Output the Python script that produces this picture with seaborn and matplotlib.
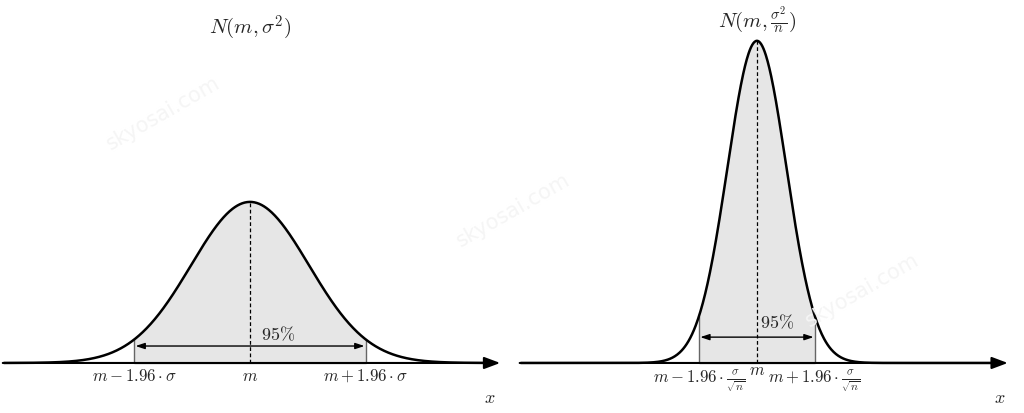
import numpy as np
import matplotlib
matplotlib.use("Agg")
import matplotlib.pyplot as plt
import seaborn as sns

# parameters of the two distributions
m = 0.0
sigma = 1.0
n = 4
z = 1.96
coverage_label = r"$95\%$"
titles = [r"$N(m,\sigma^2)$", r"$N(m,\frac{\sigma^2}{n})$"]
lower_labels = [r"$m-1.96\cdot\sigma$", r"$m-1.96\cdot\frac{\sigma}{\sqrt{n}}$"]
upper_labels = [r"$m+1.96\cdot\sigma$", r"$m+1.96\cdot\frac{\sigma}{\sqrt{n}}$"]
scales = [sigma, sigma / np.sqrt(n)]

sns.set_theme(style="white")
plt.rcParams["mathtext.fontset"] = "cm"
plt.rcParams["font.family"] = ["DejaVu Sans"]

fig = plt.figure(figsize=(10.24, 4.13), dpi=100)

# layout (per panel) in data units
panel_rects = [[0.0, 0.0, 0.5, 1.0], [0.5, 0.0, 0.5, 1.0]]
xlims = [(-4.237, 4.44), (-4.15, 4.525)]
ylim = (-0.1239, 0.899)
axis_start = [-4.19, -4.02]
axis_end = [4.24, 4.25]
title_y = [0.83, 0.85]
pct_pos = [(0.47, 0.069), (0.34, 0.10)]
arrow_y = [0.042, 0.064]
lab_y = [-0.032, -0.047]
m_lab_y = [-0.032, -0.017]
xlab_pos = [(4.07, -0.087), (4.12, -0.087)]


def pdf(x, s):
    return np.exp(-0.5 * ((x - m) / s) ** 2) / (s * np.sqrt(2 * np.pi))


for i in range(2):
    ax = fig.add_axes(panel_rects[i])
    s = scales[i]
    ax.set_xlim(*xlims[i])
    ax.set_ylim(*ylim)
    ax.axis("off")

    lo, hi = m - z * s, m + z * s
    xs = np.linspace(axis_start[i] + 0.02, axis_end[i] - 0.2, 800)
    ys = pdf(xs, s)

    # x axis with arrow
    ax.annotate("", xy=(axis_end[i], 0), xytext=(axis_start[i], 0),
                arrowprops=dict(arrowstyle="-|>,head_length=0.8,head_width=0.3",
                                color="black", lw=1.5, shrinkA=0, shrinkB=0))

    # shaded central region
    xin = np.linspace(lo, hi, 400)
    ax.fill_between(xin, pdf(xin, s), 0, color="#e6e6e6", lw=0, zorder=1)
    ax.hlines(0, lo, hi, color="#8a8a8a", lw=1.0, zorder=2)
    ax.vlines([lo, hi], 0, [pdf(lo, s), pdf(hi, s)], color="#666666", lw=1.0, zorder=2)

    # curve
    sns.lineplot(x=xs, y=ys, ax=ax, color="black", lw=1.8, zorder=4)

    # dashed mean line
    ax.vlines(m, 0, pdf(m, s), color="black", lw=0.9, linestyles=(0, (3, 2)), zorder=3)

    # 95% double arrow
    ax.annotate("", xy=(hi - 0.02, arrow_y[i]), xytext=(lo + 0.02, arrow_y[i]),
                arrowprops=dict(arrowstyle="<|-|>,head_length=0.45,head_width=0.15",
                                color="black", lw=1.0, shrinkA=0, shrinkB=0), zorder=5)
    ax.text(pct_pos[i][0], pct_pos[i][1], coverage_label, ha="center", va="center",
            fontsize=13)

    # labels
    ax.text(lo, lab_y[i], lower_labels[i], ha="center", va="center", fontsize=12)
    ax.text(hi, lab_y[i], upper_labels[i], ha="center", va="center", fontsize=12)
    ax.text(m, m_lab_y[i], r"$m$", ha="center", va="center", fontsize=12)
    ax.text(xlab_pos[i][0], xlab_pos[i][1], r"$x$", ha="center", va="center", fontsize=13)
    ax.text(m, title_y[i], titles[i], ha="center", va="center", fontsize=15)

# faint watermarks
for (wx, wy) in [(163 / 1024, 1 - 113 / 413), (513 / 1024, 1 - 210 / 413), (862 / 1024, 1 - 290 / 413)]:
    fig.text(wx, wy, "skyosai.com", rotation=30, ha="center", va="center",
             fontsize=15, color="#f5f5f5", zorder=0)

fig.savefig("out.png", dpi=100)
